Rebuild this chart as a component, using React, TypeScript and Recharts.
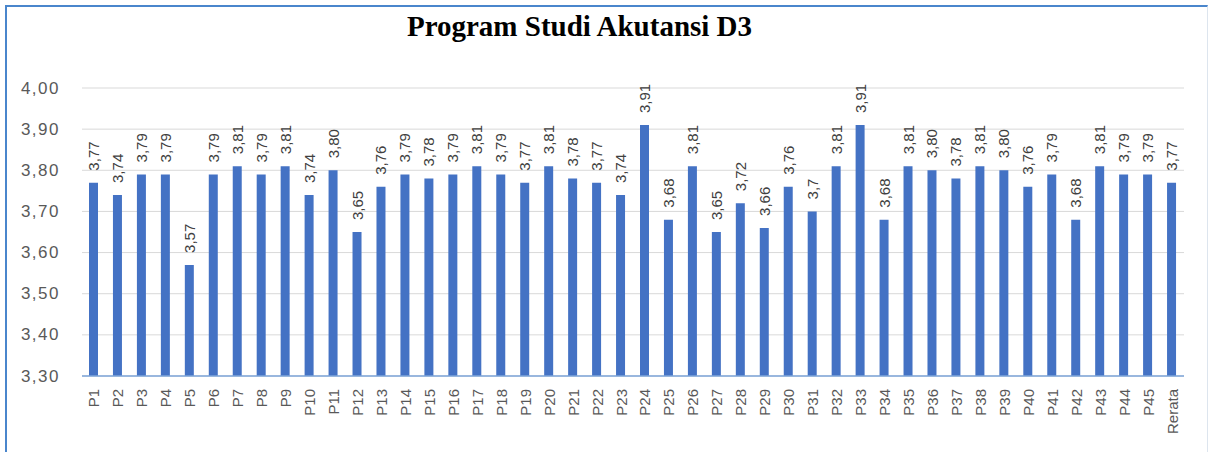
import { Bar, BarChart, CartesianGrid, LabelList, XAxis, YAxis } from "recharts";

const categories = [
  "P1", "P2", "P3", "P4", "P5", "P6", "P7", "P8", "P9", "P10",
  "P11", "P12", "P13", "P14", "P15", "P16", "P17", "P18", "P19", "P20",
  "P21", "P22", "P23", "P24", "P25", "P26", "P27", "P28", "P29", "P30",
  "P31", "P32", "P33", "P34", "P35", "P36", "P37", "P38", "P39", "P40",
  "P41", "P42", "P43", "P44", "P45", "Rerata",
];

const scores = [
  3.77, 3.74, 3.79, 3.79, 3.57, 3.79, 3.81, 3.79, 3.81, 3.74,
  3.8, 3.65, 3.76, 3.79, 3.78, 3.79, 3.81, 3.79, 3.77, 3.81,
  3.78, 3.77, 3.74, 3.91, 3.68, 3.81, 3.65, 3.72, 3.66, 3.76,
  3.7, 3.81, 3.91, 3.68, 3.81, 3.8, 3.78, 3.81, 3.8, 3.76,
  3.79, 3.68, 3.81, 3.79, 3.79, 3.77,
];

// labels as printed on the chart (P31 shows "3,7")
const scoreLabels = [
  "3,77", "3,74", "3,79", "3,79", "3,57", "3,79", "3,81", "3,79", "3,81", "3,74",
  "3,80", "3,65", "3,76", "3,79", "3,78", "3,79", "3,81", "3,79", "3,77", "3,81",
  "3,78", "3,77", "3,74", "3,91", "3,68", "3,81", "3,65", "3,72", "3,66", "3,76",
  "3,7", "3,81", "3,91", "3,68", "3,81", "3,80", "3,78", "3,81", "3,80", "3,76",
  "3,79", "3,68", "3,81", "3,79", "3,79", "3,77",
];

const yTicks = [3.3, 3.4, 3.5, 3.6, 3.7, 3.8, 3.9, 4.0];

const data = categories.map((name, i) => ({
  name,
  score: scores[i],
  label: scoreLabels[i],
}));

const FONT = "'Liberation Sans', Arial, sans-serif";

const XTick = ({ x, y, payload }: any) => (
  <text
    x={x}
    y={y}
    transform={`rotate(-90, ${x}, ${y})`}
    textAnchor="end"
    dominantBaseline="central"
    fontFamily={FONT}
    fontSize={15}
    fill="#595959"
  >
    {payload.value}
  </text>
);

const YTick = ({ x, y, payload }: any) => (
  <text
    x={x}
    y={y}
    textAnchor="end"
    dominantBaseline="central"
    fontFamily={FONT}
    fontSize={17}
    letterSpacing={1.5}
    fill="#595959"
  >
    {payload.value.toFixed(2).replace(".", ",")}
  </text>
);

const ValueLabel = ({ x, y, width, value }: any) => {
  const cx = x + width / 2;
  const ty = y - 12;
  return (
    <text
      x={cx}
      y={ty}
      transform={`rotate(-90, ${cx}, ${ty})`}
      textAnchor="start"
      dominantBaseline="central"
      fontFamily={FONT}
      fontSize={15}
      fill="#404040"
    >
      {value}
    </text>
  );
};

export default function App() {
  return (
    <div style={{ position: "absolute", left: 0, top: 0, width: 1211, height: 452, background: "#fff" }}>
      <div
        style={{
          position: "absolute",
          left: 5,
          top: 5,
          width: 1203,
          height: 447,
          borderTop: "2px solid #4a86cc",
          borderLeft: "2px solid #4a86cc",
          borderRight: "1px solid #dde5ee",
          boxSizing: "border-box",
        }}
      />
      <div
        style={{
          position: "absolute",
          left: 0,
          width: 1159,
          top: 9,
          textAlign: "center",
          fontFamily: "'Liberation Serif', 'Times New Roman', serif",
          fontWeight: "bold",
          fontSize: 29,
          lineHeight: "34px",
          color: "#000",
        }}
      >
        Program Studi Akutansi D3
      </div>
      <div style={{ position: "absolute", left: 0, top: 0 }}>
        <BarChart
          width={1211}
          height={452}
          data={data}
          margin={{ top: 88, right: 27, bottom: 0, left: 0 }}
          barSize={9}
        >
          <CartesianGrid vertical={false} stroke="#d9d9d9" />
          <XAxis
            dataKey="name"
            interval={0}
            height={76}
            tickSize={0}
            tickMargin={13}
            tick={<XTick />}
            axisLine={{ stroke: "#7ea6da", strokeWidth: 1.5 }}
            tickLine={false}
          />
          <YAxis
            domain={[3.3, 4.0]}
            ticks={yTicks}
            width={82}
            tickSize={0}
            tickMargin={22}
            tick={<YTick />}
            axisLine={false}
            tickLine={false}
            allowDataOverflow
          />
          <Bar dataKey="score" fill="#4472c4" isAnimationActive={false}>
            <LabelList dataKey="label" content={<ValueLabel />} />
          </Bar>
        </BarChart>
      </div>
    </div>
  );
}
